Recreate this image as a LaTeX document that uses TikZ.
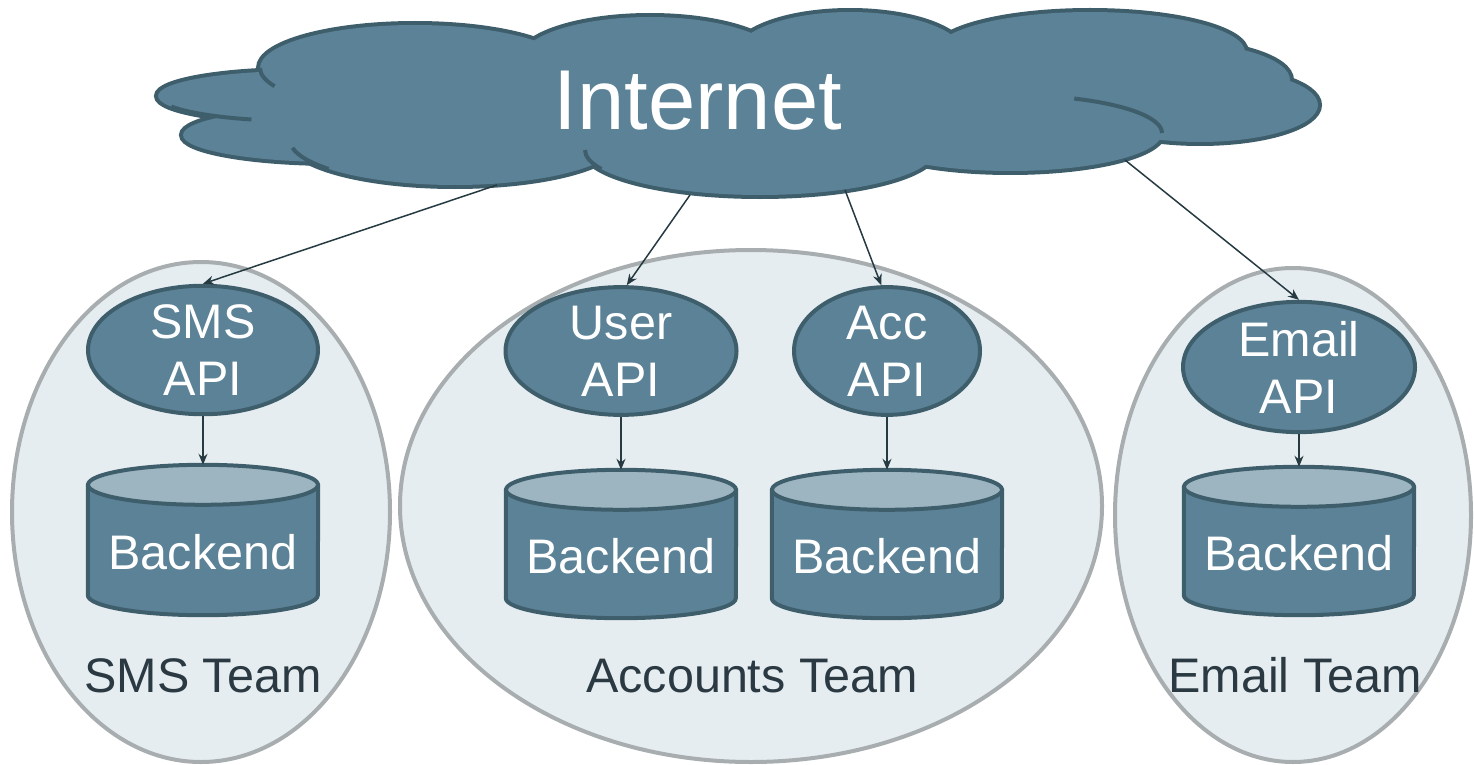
\documentclass[tikz,border=0pt]{standalone}
\usepackage{fontspec}
\setmainfont{Liberation Sans}
\usetikzlibrary{shapes.geometric,arrows.meta}
\definecolor{cloudfill}{HTML}{5B8296}
\definecolor{cloudline}{HTML}{3F5E6C}
\definecolor{cyltopc}{HTML}{9DB4C1}
\definecolor{teamfill}{HTML}{E6EDF1}
\definecolor{teamline}{HTML}{A8ADAF}
\definecolor{arrowc}{HTML}{263A42}
\definecolor{labelc}{HTML}{2B3A42}
\pgfdeclarelayer{teams}
\pgfdeclarelayer{shapes}
\pgfsetlayers{teams,shapes,main}
\tikzset{
 team/.style={ellipse, draw=teamline, fill=teamfill, line width=4pt, inner sep=0pt},
 api/.style={ellipse, draw=cloudline, fill=cloudfill, line width=4pt, inner sep=0pt, text=white, align=center, font=\fontsize{48.5}{57}\selectfont},
 cylnode/.style={rectangle, inner sep=0pt, minimum width=230pt, text=white, font=\fontsize{48.5}{57}\selectfont},
 cylbody/.style={draw=cloudline, fill=cloudfill, line width=4pt, line join=round},
 cyltopst/.style={draw=cloudline, fill=cyltopc, line width=4pt},
 link/.style={draw=arrowc, line width=1.5pt, -{Stealth[length=11pt,width=9pt]}},
 teamlabel/.style={text=labelc, font=\fontsize{48.5}{57}\selectfont, anchor=base, inner sep=0pt},
 cloudedge/.style={draw=cloudline, line width=8pt},
 cloudtail/.style={draw=cloudline, line width=4pt},
}
\newcommand\cylaround[1]{%
 \begin{pgfonlayer}{shapes}
 \path[cylbody] ([yshift=-20pt]#1.north west) -- ([yshift=20pt]#1.south west)
   arc[start angle=180,end angle=360,x radius=115pt,y radius=20pt]
   -- ([yshift=-20pt]#1.north east) -- cycle;
 \path[cyltopst] ([yshift=-20pt]#1.north) ellipse[x radius=115pt,y radius=20pt];
 \end{pgfonlayer}}
\newcommand\btext[1]{\raisebox{-12pt}[\height][\depth]{#1}}
\begin{document}
\begin{tikzpicture}[x=1pt,y=-1pt]
\useasboundingbox (0,0) rectangle (1474,765);

% team ellipses
\begin{pgfonlayer}{teams}
\node[team, minimum width=378pt, minimum height=500pt] (smsteam) at (201,512) {};
\node[team, minimum width=702pt, minimum height=512pt] (accteam) at (751,506) {};
\node[team, minimum width=356pt, minimum height=494pt] (emailteam) at (1293,515) {};
\end{pgfonlayer}
\node[teamlabel] (smslabel) at (203,692) {SMS Team};
\node[teamlabel] (acclabel) at (752,692) {Accounts Team};
\node[teamlabel] (emaillabel) at (1295,692) {Email Team};

% cloud
\def\lobes{300/96/142pt/25pt, 335/135/152pt/27pt, 415/68/155pt/43pt, 650/60/130pt/43pt,
 850/55/115pt/43pt, 1090/52/155pt/40pt, 1170/80/120pt/38pt, 1200/105/118pt/37pt,
 1010/133/152pt/38pt, 760/150/175pt/45pt, 455/140/165pt/45pt, 720/100/420pt/55pt}
\foreach \cx/\cy/\rx/\ry in \lobes {\path[cloudedge] (\cx,\cy) ellipse[x radius=\rx, y radius=\ry];}
\foreach \cx/\cy/\rx/\ry in \lobes {\fill[cloudfill] (\cx,\cy) ellipse[x radius=\rx, y radius=\ry];}
\path[cloudtail] (300,96) ++(205:142pt and 25pt) arc[start angle=205,end angle=250,x radius=142pt,y radius=25pt];
\path[cloudtail] (415,68) ++(180:155pt and 43pt) arc[start angle=180,end angle=205,x radius=155pt,y radius=43pt];
\path[cloudtail] (455,140) ++(190:165pt and 45pt) arc[start angle=190,end angle=220,x radius=165pt,y radius=45pt];
\path[cloudtail] (1010,133) ++(65:152pt and 38pt) arc[start angle=65,end angle=0,x radius=152pt,y radius=38pt];
\path[cloudtail] (760,150) ++(180:175pt and 45pt) arc[start angle=180,end angle=205,x radius=175pt,y radius=45pt];
\node[text=white, font=\fontsize{85}{100}\selectfont, anchor=base, inner sep=0pt] (internet) at (698,130) {Internet};

\coordinate (c1) at (497,185);
\coordinate (c2) at (690,195);
\coordinate (c3) at (845,190);
\coordinate (c4) at (1125,160);

% APIs
\node[api, minimum width=230pt, minimum height=116pt] (smsapi) at (203,350) {SMS\\API};
\node[api, minimum width=231pt, minimum height=118pt] (userapi) at (621,351) {User\\API};
\node[api, minimum width=186pt, minimum height=110pt] (accapi) at (887,351) {Acc\\API};
\node[api, minimum width=232pt, minimum height=118pt] (emailapi) at (1299,367) {Email\\API};

% backends
\node[cylnode, minimum height=150pt] (b1) at (203,540) {\btext{Backend}};
\node[cylnode, minimum height=148pt] (b2) at (621,544) {\btext{Backend}};
\node[cylnode, minimum height=148pt] (b3) at (887,544) {\btext{Backend}};
\node[cylnode, minimum height=148pt] (b4) at (1299,541) {\btext{Backend}};
\cylaround{b1}\cylaround{b2}\cylaround{b3}\cylaround{b4}

% connectors
\draw[link] (c1) -- (smsapi.north);
\draw[link] (c2) -- (userapi.85);
\draw[link] (c3) -- (accapi.95);
\draw[link] (c4) -- (emailapi.north);
\draw[link] (smsapi.south) -- (b1.north);
\draw[link] (userapi.south) -- (b2.north);
\draw[link] (accapi.south) -- (b3.north);
\draw[link] (emailapi.south) -- (b4.north);
\end{tikzpicture}
\end{document}
